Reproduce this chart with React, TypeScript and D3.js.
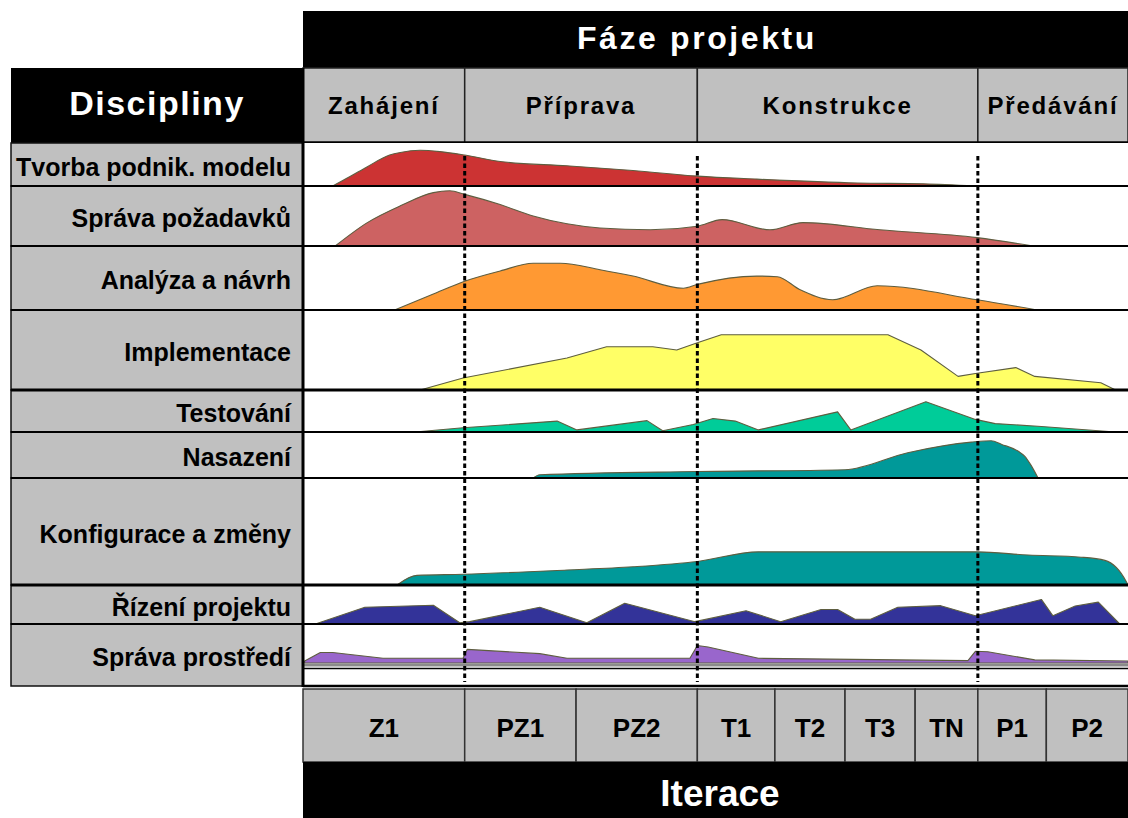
import React from "react";
import * as d3 from "d3";

// project phases and iterations, positions in % of project time
const phases = ["Zahájení", "Příprava", "Konstrukce", "Předávání"];
const phaseEnds = [19.6, 47.8, 81.8, 100];
const iterations = ["Z1", "PZ1", "PZ2", "T1", "T2", "T3", "TN", "P1", "P2"];
const iterationEnds = [19.6, 33.1, 47.8, 57.2, 65.7, 74.2, 81.8, 90.1, 100];

const disciplines = [
  "Tvorba podnik. modelu",
  "Správa požadavků",
  "Analýza a návrh",
  "Implementace",
  "Testování",
  "Nasazení",
  "Konfigurace a změny",
  "Řízení projektu",
  "Správa prostředí",
];

// effort per discipline: [time %, share of row height]
const tvorba: [number, number][] = [[3.6, 0], [5.7, 0.22], [7.8, 0.45], [10.5, 0.72], [11.8, 0.78], [14.2, 0.83], [16.6, 0.8], [19.6, 0.72], [23.9, 0.57], [32, 0.47], [40, 0.36], [47.8, 0.23], [55, 0.16], [67.2, 0.07], [75.2, 0.05], [81.5, 0]];
const pozadavky: [number, number][] = [[3.9, 0], [7.8, 0.39], [11.8, 0.67], [15.8, 0.89], [17.8, 0.92], [19.6, 0.86], [23.9, 0.69], [27.9, 0.5], [32, 0.37], [36, 0.3], [42.1, 0.27], [47.8, 0.33], [50.8, 0.44], [56.6, 0.27], [60.6, 0.39], [69.9, 0.27], [81.7, 0.14], [88.5, 0]];
const analyza: [number, number][] = [[11.1, 0], [15.8, 0.25], [19.6, 0.45], [23.9, 0.61], [27.9, 0.73], [31.2, 0.73], [36, 0.63], [40, 0.53], [46.1, 0.34], [47.8, 0.4], [55, 0.53], [57.5, 0.52], [60.2, 0.32], [64.2, 0.16], [69.6, 0.38], [81.7, 0.16], [89, 0]];
const implementace: [number, number][] = [[14.2, 0], [19.4, 0.15], [32, 0.4], [36.8, 0.54], [42.4, 0.54], [45.3, 0.5], [47.8, 0.59], [50.7, 0.69], [70.9, 0.69], [74.9, 0.5], [79.4, 0.17], [81.7, 0.21], [86.4, 0.28], [88.7, 0.17], [96.7, 0.09], [98.5, 0]];
const testovani: [number, number][] = [[13.6, 0], [19.4, 0.1], [30.8, 0.26], [33.2, 0.05], [41.7, 0.27], [43.6, 0.03], [47.3, 0.18], [49.7, 0.32], [52.4, 0.26], [55.2, 0.05], [64.8, 0.48], [66.4, 0.05], [75.5, 0.72], [81.5, 0.3], [83.9, 0.2], [89.5, 0.13], [98.5, 0]];
const nasazeni: [number, number][] = [[27.9, 0], [28.7, 0.07], [47.8, 0.14], [65.7, 0.18], [73.3, 0.55], [81, 0.78], [83.4, 0.81], [84.7, 0.73], [86.7, 0.58], [87.5, 0.47], [88.2, 0.29], [89.1, 0]];
const konfigurace: [number, number][] = [[11.4, 0], [13.8, 0.09], [19.4, 0.1], [32, 0.14], [40, 0.17], [47.8, 0.22], [55.2, 0.31], [81.7, 0.31], [87.9, 0.28], [94.3, 0.26], [97.2, 0.23], [99.8, 0.03], [100, 0]];
const rizeni: [number, number][] = [[1.5, 0], [7.5, 0.43], [15.8, 0.48], [19, 0.03], [20.2, 0.06], [28.7, 0.43], [34.4, 0.03], [39, 0.53], [47.5, 0.06], [53.7, 0.34], [57.9, 0.06], [62.8, 0.37], [64.8, 0.37], [66.9, 0.12], [68.8, 0.12], [72.1, 0.43], [77.3, 0.47], [81.5, 0.21], [89.5, 0.63], [90.9, 0.21], [93.6, 0.46], [96.4, 0.56], [99, 0]];
const prostredi: [number, number][] = [[0.2, 0.05], [2.1, 0.27], [3.6, 0.27], [9.7, 0.12], [19.4, 0.12], [19.9, 0.35], [28.7, 0.24], [32, 0.12], [46.9, 0.12], [47.8, 0.45], [49.1, 0.41], [55.2, 0.12], [80.6, 0.06], [81.5, 0.3], [83, 0.29], [88.7, 0.08], [100, 0.05]];

const humps = [tvorba, pozadavky, analyza, implementace, testovani, nasazeni, konfigurace, rizeni, prostredi];
const colors = ["#cc3333", "#cd6262", "#ff9933", "#ffff66", "#00cc99", "#009999", "#009999", "#333399", "#9966cc"];
const smooth = [true, true, true, false, false, true, true, false, false];

// layout
const W = 1128;
const H = 818;
const LEFT = 11;
const CHART_X0 = 303;
const CHART_X1 = 1128;
const rowBounds = [143, 186, 246, 310, 390, 432, 478, 585, 624, 686];
const thickRows = [390, 585];
const FONT = "'Liberation Sans', Arial, sans-serif";
const GRAY = "#c0c0c0";

export default function App() {
  const x = d3.scaleLinear().domain([0, 100]).range([CHART_X0, CHART_X1]);

  const rows = disciplines.map((name, i) => {
    const top = rowBounds[i];
    const bottom = rowBounds[i + 1];
    const base = i === disciplines.length - 1 ? 663 : bottom;
    const y = d3.scaleLinear().domain([0, 1]).range([base, top]);
    const area = d3
      .area<[number, number]>()
      .x((d) => x(d[0]))
      .y0(base)
      .y1((d) => y(d[1]))
      .curve(smooth[i] ? d3.curveMonotoneX : d3.curveLinear);
    return { name, top, bottom, path: area(humps[i]) || "" };
  });

  const phaseStarts = [0, ...phaseEnds.slice(0, -1)];
  const iterStarts = [0, ...iterationEnds.slice(0, -1)];

  return (
    <div style={{ position: "absolute", left: 0, top: 0 }}>
      <svg width={W} height={H} style={{ display: "block", background: "#fff" }} fontFamily={FONT}>
        {/* top header */}
        <rect x={CHART_X0} y={11} width={CHART_X1 - CHART_X0} height={57} fill="#000" />
        <text x={697} y={49} fill="#fff" fontSize={32} fontWeight="bold" textAnchor="middle" letterSpacing={2.6}>
          Fáze projektu
        </text>

        {/* Discipliny box */}
        <rect x={LEFT} y={68} width={CHART_X0 - LEFT} height={75} fill="#000" />
        <text x={157} y={115} fill="#fff" fontSize={34} fontWeight="bold" textAnchor="middle" letterSpacing={1.5}>
          Discipliny
        </text>

        {/* phases */}
        {phases.map((p, i) => (
          <g key={p}>
            <rect x={x(phaseStarts[i])} y={68} width={x(phaseEnds[i]) - x(phaseStarts[i])} height={75} fill={GRAY} stroke="#222" strokeWidth={1.5} />
            <text x={(x(phaseStarts[i]) + x(phaseEnds[i])) / 2} y={114} fontSize={24} fontWeight="bold" textAnchor="middle" letterSpacing={1.8}>
              {p}
            </text>
          </g>
        ))}
        <line x1={CHART_X0} x2={CHART_X1} y1={142.5} y2={142.5} stroke="#000" strokeWidth={2.5} />

        {/* chart background */}
        <rect x={CHART_X0} y={143} width={CHART_X1 - CHART_X0} height={543} fill="#fff" />

        {/* humps */}
        {rows.map((r, i) => (
          <path key={r.name} d={r.path} fill={colors[i]} stroke="#5e5e40" strokeWidth={1.1} strokeLinejoin="round" />
        ))}

        {/* environment baseline band */}
        <line x1={CHART_X0} x2={CHART_X1} y1={665} y2={665} stroke="#8a8a8a" strokeWidth={3} />
        <line x1={CHART_X0} x2={CHART_X1} y1={668.5} y2={668.5} stroke="#000" strokeWidth={1.5} />

        {/* label column and row lines */}
        {rows.map((r) => (
          <g key={"l" + r.name}>
            <rect x={LEFT} y={r.top} width={CHART_X0 - LEFT} height={r.bottom - r.top} fill={GRAY} stroke="#111" strokeWidth={1.5} />
            <text x={291} y={(r.top + r.bottom) / 2 + 11} fontSize={25} fontWeight="bold" textAnchor="end" fill="#000">
              {r.name}
            </text>
          </g>
        ))}
        {rowBounds.slice(1, -1).map((b) => (
          <line
            key={"h" + b}
            x1={LEFT}
            x2={CHART_X1}
            y1={b}
            y2={b}
            stroke="#000"
            strokeWidth={thickRows.includes(b) ? 3 : 1.8}
          />
        ))}
        <line x1={CHART_X0} x2={CHART_X1} y1={686} y2={686} stroke="#000" strokeWidth={2.5} />
        <line x1={CHART_X0} x2={CHART_X0} y1={68} y2={687} stroke="#000" strokeWidth={3} />

        {/* phase milestones */}
        {phaseEnds.slice(0, -1).map((t) => (
          <line key={"d" + t} x1={x(t)} x2={x(t)} y1={156} y2={682} stroke="#000" strokeWidth={3} strokeDasharray="4.5,3" />
        ))}

        {/* iterations */}
        {iterations.map((it, i) => (
          <g key={it}>
            <rect x={x(iterStarts[i])} y={689} width={x(iterationEnds[i]) - x(iterStarts[i])} height={73} fill={GRAY} stroke="#333" strokeWidth={1.5} />
            <text x={(x(iterStarts[i]) + x(iterationEnds[i])) / 2} y={737} fontSize={26} fontWeight="bold" textAnchor="middle">
              {it}
            </text>
          </g>
        ))}
        <rect x={CHART_X0} y={762} width={CHART_X1 - CHART_X0} height={56} fill="#000" />
        <text x={720} y={806} fill="#fff" fontSize={37} fontWeight="bold" textAnchor="middle">
          Iterace
        </text>
      </svg>
    </div>
  );
}
